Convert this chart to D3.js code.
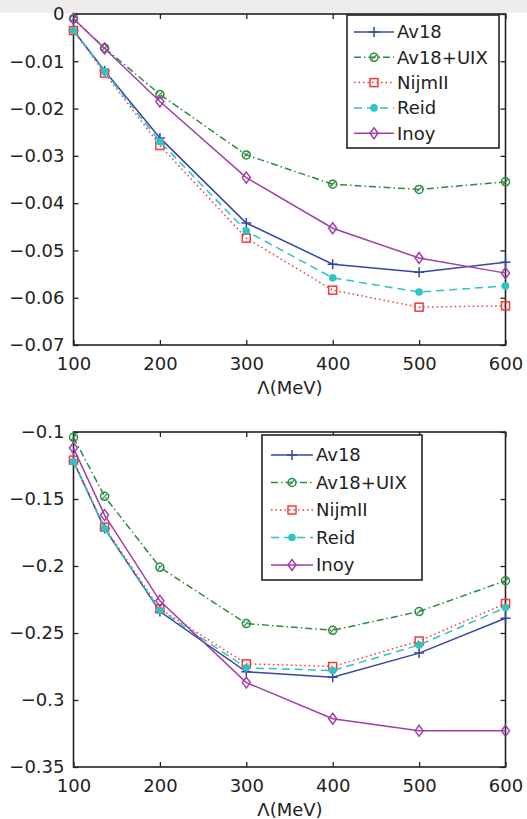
<!DOCTYPE html>
<html>
<head>
<meta charset="utf-8">
<script src="https://cdn.jsdelivr.net/npm/d3@7"></script>
<style>
  body { margin: 0; background: #fff; }
  svg text { font-family: "DejaVu Sans", sans-serif; fill: #222; }
</style>
</head>
<body>
<div id="chart"></div>
<script>
// Cutoff values on the x axis
var lambda = [100, 136, 200, 300, 400, 500, 600];
var seriesNames = ["Av18", "Av18+UIX", "NijmII", "Reid", "Inoy"];

// Upper panel
var av18Top = [-0.0035, -0.0120, -0.0262, -0.0442, -0.0529, -0.0546, -0.0525];
var uixTop  = [-0.0010, -0.0072, -0.0170, -0.0298, -0.0360, -0.0371, -0.0355];
var nijmTop = [-0.0035, -0.0125, -0.0278, -0.0474, -0.0584, -0.0620, -0.0617];
var reidTop = [-0.0035, -0.0122, -0.0270, -0.0459, -0.0558, -0.0588, -0.0575];
var inoyTop = [-0.0010, -0.0073, -0.0185, -0.0346, -0.0453, -0.0516, -0.0548];

// Lower panel
var av18Bot = [-0.122, -0.172, -0.234, -0.279, -0.283, -0.265, -0.239];
var uixBot  = [-0.104, -0.148, -0.201, -0.243, -0.248, -0.234, -0.211];
var nijmBot = [-0.121, -0.171, -0.232, -0.273, -0.275, -0.256, -0.228];
var reidBot = [-0.122, -0.172, -0.233, -0.276, -0.278, -0.259, -0.231];
var inoyBot = [-0.112, -0.162, -0.226, -0.287, -0.314, -0.323, -0.323];

var xTicks = [100, 200, 300, 400, 500, 600];
var yTicksTop = [0, -0.01, -0.02, -0.03, -0.04, -0.05, -0.06, -0.07];
var yTicksBot = [-0.1, -0.15, -0.2, -0.25, -0.3, -0.35];

// style per series: colour, dash, marker
var styles = {
  "Av18":     {color: "#3447a6", dash: null,          marker: "plus"},
  "Av18+UIX": {color: "#2a8c3e", dash: "7,3,1.5,3",   marker: "circle"},
  "NijmII":   {color: "#f23a3a", dash: "1.5,3",       marker: "square"},
  "Reid":     {color: "#2ec4c4", dash: "8,5",         marker: "dot"},
  "Inoy":     {color: "#a13fa6", dash: null,          marker: "diamond"}
};

var W = 527, H = 819;
var svg = d3.select("#chart").append("svg")
    .attr("width", W)
    .attr("height", H);

// grey strip at the very top of the scan
svg.append("rect").attr("x", 0).attr("y", 0).attr("width", W).attr("height", 13)
    .attr("fill", "#efedeb");

function drawMarker(g, type, color) {
  if (type === "plus") {
    g.append("path").attr("d", "M-5,0H5M0,-5V5")
      .attr("stroke", color).attr("stroke-width", 1.5).attr("fill", "none");
  } else if (type === "circle") {
    g.append("circle").attr("r", 4)
      .attr("stroke", color).attr("stroke-width", 1.5).attr("fill", "none");
    g.append("path").attr("d", "M-2.5,2.5L2.5,-2.5")
      .attr("stroke", color).attr("stroke-width", 1.2);
  } else if (type === "square") {
    g.append("rect").attr("x", -4).attr("y", -4).attr("width", 8).attr("height", 8)
      .attr("stroke", color).attr("stroke-width", 1.5).attr("fill", "none");
  } else if (type === "dot") {
    g.append("circle").attr("r", 3.8).attr("fill", color);
  } else if (type === "diamond") {
    g.append("path").attr("d", "M0,-5.5L4,0L0,5.5L-4,0Z")
      .attr("stroke", color).attr("stroke-width", 1.5).attr("fill", "none");
  }
}

function panel(cfg) {
  var x = d3.scaleLinear().domain([100, 600]).range([73.5, 505.5]);
  var y = d3.scaleLinear().domain(cfg.yDomain).range([cfg.top, cfg.bottom]);
  var g = svg.append("g");

  var fmt = cfg.fmt;

  // axes, MATLAB-style ticks pointing inward
  var ax = g.append("g").attr("transform", "translate(0," + cfg.bottom + ")")
      .call(d3.axisBottom(x).tickValues(xTicks).tickSizeInner(-5).tickSizeOuter(0).tickPadding(12));
  var axTop = g.append("g").attr("transform", "translate(0," + cfg.top + ")")
      .call(d3.axisTop(x).tickValues(xTicks).tickSizeInner(-5).tickSizeOuter(0).tickFormat(""));
  var ay = g.append("g").attr("transform", "translate(73.5,0)")
      .call(d3.axisLeft(y).tickValues(cfg.yTicks).tickSizeInner(-5).tickSizeOuter(0).tickPadding(9).tickFormat(fmt));
  var ayR = g.append("g").attr("transform", "translate(505.5,0)")
      .call(d3.axisRight(y).tickValues(cfg.yTicks).tickSizeInner(-5).tickSizeOuter(0).tickFormat(""));
  [ax, axTop, ay, ayR].forEach(function(a) {
    a.select(".domain").remove();
    a.selectAll("line").attr("stroke", "#222").attr("stroke-width", 1.3);
    a.selectAll("text").style("font-size", "18px").attr("fill", "#222");
  });
  g.append("rect")
      .attr("x", 73.5).attr("y", cfg.top)
      .attr("width", 432).attr("height", cfg.bottom - cfg.top)
      .attr("fill", "none").attr("stroke", "#222").attr("stroke-width", 1.6);

  g.append("text")
      .attr("x", 290).attr("y", cfg.bottom + 49)
      .attr("text-anchor", "middle")
      .style("font-size", "18px")
      .text("\u039B(MeV)");

  var line = d3.line()
      .x(function(d) { return x(d[0]); })
      .y(function(d) { return y(d[1]); });

  seriesNames.forEach(function(name, i) {
    var st = styles[name];
    var pts = lambda.map(function(l, j) { return [l, cfg.data[i][j]]; });
    g.append("path")
        .datum(pts)
        .attr("d", line)
        .attr("fill", "none")
        .attr("stroke", st.color)
        .attr("stroke-width", 1.5)
        .attr("stroke-dasharray", st.dash);
    pts.forEach(function(p) {
      var m = g.append("g").attr("transform", "translate(" + x(p[0]) + "," + y(p[1]) + ")");
      drawMarker(m, st.marker, st.color);
    });
  });

  // legend
  var L = cfg.legend;
  var lg = g.append("g");
  lg.append("rect")
      .attr("x", L.x).attr("y", L.y).attr("width", L.w).attr("height", L.h)
      .attr("fill", "#fff").attr("stroke", "#222").attr("stroke-width", 1.6);
  seriesNames.forEach(function(name, i) {
    var st = styles[name];
    var yy = L.y + L.first + i * L.step;
    lg.append("line")
        .attr("x1", L.x + L.l0).attr("x2", L.x + L.l1)
        .attr("y1", yy).attr("y2", yy)
        .attr("stroke", st.color).attr("stroke-width", 1.5)
        .attr("stroke-dasharray", st.dash);
    var m = lg.append("g").attr("transform", "translate(" + (L.x + (L.l0 + L.l1) / 2) + "," + yy + ")");
    drawMarker(m, st.marker, st.color);
    lg.append("text")
        .attr("x", L.x + L.l1 + 3).attr("y", yy)
        .attr("dy", "0.36em")
        .style("font-size", "18px")
        .text(name);
  });
}

function fmtTop(d) { return d === 0 ? "0" : d3.format(".2f")(d); }
function fmtBot(d) { return d3.format("")(+d.toFixed(2)); }

panel({
  top: 14, bottom: 345, yDomain: [0, -0.07], yTicks: yTicksTop, fmt: fmtTop,
  data: [av18Top, uixTop, nijmTop, reidTop, inoyTop],
  legend: {x: 347, y: 15, w: 152, h: 133, first: 17, step: 25.3, l0: 7, l1: 47}
});

panel({
  top: 432, bottom: 767, yDomain: [-0.1, -0.35], yTicks: yTicksBot, fmt: fmtBot,
  data: [av18Bot, uixBot, nijmBot, reidBot, inoyBot],
  legend: {x: 262, y: 435, w: 160, h: 145, first: 20, step: 27.5, l0: 9, l1: 51}
});
</script>
</body>
</html>
